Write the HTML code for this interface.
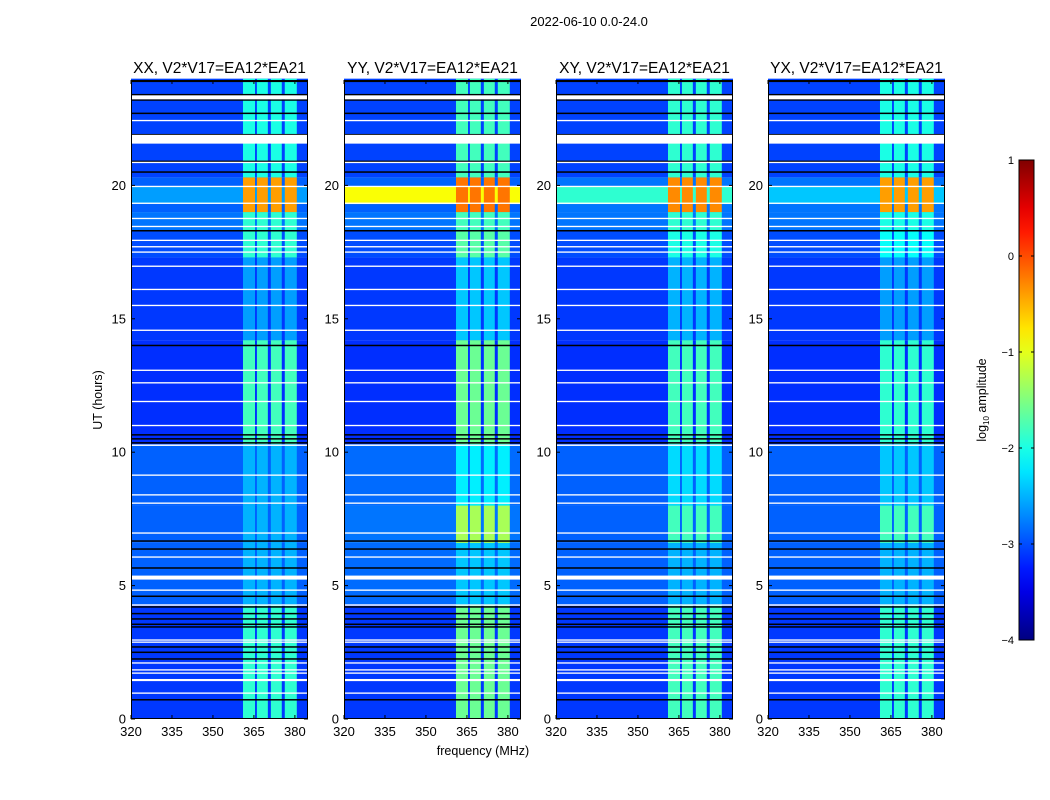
<!DOCTYPE html>
<html><head><meta charset="utf-8"><style>
body{margin:0;background:#fff;}
svg{display:block;font-family:"Liberation Sans",sans-serif;}
</style></head><body>
<svg id="fig" width="1050" height="800" viewBox="0 0 1050 800">
<text x="589" y="26" font-size="13" text-anchor="middle">2022-06-10 0.0-24.0</text>
<text x="483" y="755" font-size="12.5" text-anchor="middle">frequency (MHz)</text>
<text transform="translate(102,400) rotate(-90)" font-size="12.5" text-anchor="middle">UT (hours)</text>
<g id="panels"></g>
<g id="cbar"></g>
</svg>
<script>
const panelTitles = ["XX, V2*V17=EA12*EA21","YY, V2*V17=EA12*EA21","XY, V2*V17=EA12*EA21","YX, V2*V17=EA12*EA21"];
const xTicks = [320,335,350,365,380];
const yTicks = [0,5,10,15,20];
const segBounds = [0,4.3,6.6,8.0,10.3,14.2,17.3,18.3,19.0,20.3,24];
const bgLevels = [
 [-3.1,-2.9,-2.9,-2.9,-3.15,-3.1,-3.0,-2.8,-2.9,-3.05],
 [-3.1,-2.85,-2.8,-2.85,-3.15,-3.1,-3.0,-2.8,-2.9,-3.05],
 [-3.1,-2.9,-2.9,-2.9,-3.15,-3.1,-3.0,-2.8,-2.8,-3.05],
 [-3.1,-2.9,-2.9,-2.9,-3.15,-3.1,-3.0,-2.8,-2.8,-3.05]];
const bandLevels = [
 [-1.9,-2.5,-2.5,-2.5,-1.8,-2.6,-1.9,-1.9,-0.4,-2.0],
 [-1.6,-2.4,-1.3,-2.2,-1.6,-2.4,-1.7,-1.8,-0.2,-1.8],
 [-1.8,-2.5,-1.8,-2.3,-1.8,-2.5,-2.0,-1.9,-0.3,-1.9],
 [-1.9,-2.5,-1.8,-2.4,-1.9,-2.6,-2.1,-2.0,-0.4,-2.0]];
const stripeStart = 19.3;
const stripeEnd = 19.95;
const stripeLevels = [-2.6,-0.9,-1.9,-2.4];
const bandStart = [361.0,366.1,371.2,376.3];
const bandEnd = [365.4,370.1,375.2,380.7];
const whiteRows = [23.3,22.43,21.73,20.86,19.96,19.33,18.76,18.46,17.94,17.7,17.5,16.97,16.1,15.5,14.57,13.07,12.6,11.9,11.0,10.26,9.14,8.4,8.09,6.97,6.07,5.3,4.83,4.27,2.96,2.88,2.1,1.84,1.72,1.46,0.97];
const whiteThick = [0.15,0.05,0.33,0.05,0.05,0.05,0.05,0.05,0.05,0.05,0.05,0.05,0.05,0.05,0.05,0.05,0.05,0.05,0.05,0.05,0.05,0.05,0.05,0.05,0.05,0.15,0.05,0.05,0.05,0.05,0.05,0.05,0.05,0.08,0.05];
const blackRows = [23.9,23.4,23.2,22.7,21.9,21.8,20.9,20.5,18.3,14.0,10.35,10.5,10.65,6.67,6.37,5.66,4.6,4.2,3.95,3.75,3.55,3.45,2.7,2.5,2.25,0.72];
const cbTicks = [1,0,-1,-2,-3,-4];

const NS="http://www.w3.org/2000/svg";
const lefts=[131,344,556,768], W=177, TOP=80, BOT=719;
const fMin=320, fMax=384.8, tMin=0, tMax=23.95;
function xs(i,f){return lefts[i]+(f-fMin)/(fMax-fMin)*W;}
function ys(h){return BOT-(h-tMin)/(tMax-tMin)*(BOT-TOP);}
function jet(v){const x=Math.max(0,Math.min(1,(v+4)/5));
 const c=t=>Math.round(255*Math.max(0,Math.min(1,1.5-Math.abs(4*x-t))));
 return `rgb(${c(3)},${c(2)},${c(1)})`;}
function el(tag,attrs,parent){const e=document.createElementNS(NS,tag);for(const k in attrs)e.setAttribute(k,attrs[k]);parent.appendChild(e);return e;}
const P=document.getElementById('panels');
for(let i=0;i<4;i++){
 const g=el('g',{},P);
 
 
 for(let s=0;s<segBounds.length-1;s++){
  const y1=ys(segBounds[s+1]), y2=ys(segBounds[s]);
  const r=el('rect',{x:lefts[i],y:y1,width:W,height:y2-y1,fill:jet(bgLevels[i][s])},g);
  
  
 }
 const sy1=ys(stripeEnd), sy2=ys(stripeStart);
 const st=el('rect',{x:lefts[i],y:sy1,width:W,height:sy2-sy1,fill:jet(stripeLevels[i])},g);
 
 
 for(let s=0;s<segBounds.length-1;s++){
  const y1=ys(segBounds[s+1]), y2=ys(segBounds[s]);
  for(let b=0;b<bandStart.length;b++){
   const bx=xs(i,bandStart[b]), bw=xs(i,bandEnd[b])-bx;
   const br=el('rect',{x:bx,y:y1,width:bw,height:y2-y1,fill:jet(bandLevels[i][s])},g);
   
   
  }
 }
 for(let k=0;k<blackRows.length;k++){
  const l=el('rect',{x:lefts[i],y:ys(blackRows[k])-0.75,width:W,height:1.5,fill:'#000'},g);
  
  
 }
 for(let k=0;k<whiteRows.length;k++){
  const y1=ys(whiteRows[k]+whiteThick[k]/2), y2=ys(whiteRows[k]-whiteThick[k]/2);
  const l=el('rect',{x:lefts[i],y:y1,width:W,height:Math.max(1.3,y2-y1),fill:'#fff'},g);
  
  
 }
 const fr=el('rect',{x:lefts[i]+0.5,y:TOP+0.5,width:W-1,height:BOT-TOP-1,fill:'none',stroke:'#000','stroke-width':1},g);
 
 
 const t=el('text',{x:lefts[i]+W/2,y:73,'font-size':15.5,'text-anchor':'middle'},g);
 t.textContent=panelTitles[i];
 
 
 xTicks.forEach(v=>{const x=xs(i,v);
  el('line',{x1:x,x2:x,y1:BOT,y2:BOT-4,stroke:'#000'},g);
  el('line',{x1:x,x2:x,y1:TOP,y2:TOP+4,stroke:'#000'},g);
  const tx=el('text',{x:x,y:BOT+17,'font-size':13,'text-anchor':'middle'},g);
  tx.textContent=v;
  
  });
 yTicks.forEach(v=>{const y=ys(v);
  el('line',{x1:lefts[i],x2:lefts[i]+4,y1:y,y2:y,stroke:'#000'},g);
  el('line',{x1:lefts[i]+W,x2:lefts[i]+W-4,y1:y,y2:y,stroke:'#000'},g);
  const ty=el('text',{x:lefts[i]-5,y:y+4.5,'font-size':13,'text-anchor':'end'},g);
  ty.textContent=v;
  
  });
}
const C=document.getElementById('cbar');
const cx=1019,cw=15,cT=160,cB=640;
const defs=el('defs',{},C);
const grad=el('linearGradient',{id:'jetg',x1:0,y1:1,x2:0,y2:0},defs);
for(let k=0;k<=20;k++){const v=-4+5*k/20;el('stop',{offset:k/20,'stop-color':jet(v)},grad);}
const cr=el('rect',{x:cx,y:cT,width:cw,height:cB-cT,fill:'url(#jetg)',stroke:'#000','stroke-width':1},C);


cbTicks.forEach(v=>{const y=cB-(v+4)/5*(cB-cT);
 el('line',{x1:cx,x2:cx+3,y1:y,y2:y,stroke:'#000'},C);
 el('line',{x1:cx+cw,x2:cx+cw-3,y1:y,y2:y,stroke:'#000'},C);
 const t=el('text',{x:cx-5,y:y+4,'font-size':11,'text-anchor':'end'},C);
 t.textContent=v<0?'\u2212'+(-v):v;
 
 });
const cl=el('text',{transform:'translate(986,400) rotate(-90)','font-size':12.5,'text-anchor':'middle'},C);
cl.innerHTML='log<tspan font-size="8" dy="3">10</tspan><tspan dy="-3"> amplitude</tspan>';


</script>
</body></html>
